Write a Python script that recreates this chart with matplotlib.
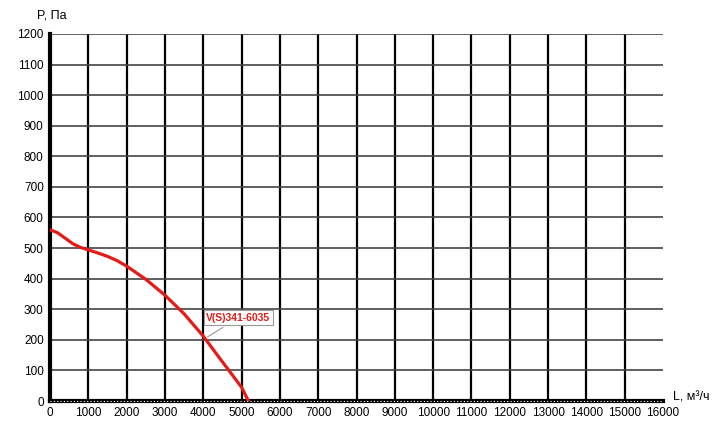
import matplotlib.pyplot as plt
import numpy as np

plt.rcParams['font.family'] = ['Liberation Sans', 'DejaVu Sans']

# curve
flow = [0, 200, 400, 600, 800, 1000, 1250, 1500, 1750, 2000, 2500, 3000, 3500,
        4000, 4500, 5000, 5180]
pressure = [560, 550, 532, 514, 502, 494, 484, 473, 459, 441, 398, 346, 285,
            212, 128, 45, 0]
x_ticks = list(range(0, 16001, 1000))
y_ticks = list(range(0, 1201, 100))
label = 'V(S)341-6035'

fig = plt.figure(figsize=(7.2, 4.36), dpi=100)
ax = fig.add_axes([50 / 720, 35 / 436, 613 / 720, 367 / 436])

ax.set_xlim(0, 16000)
ax.set_ylim(0, 1200)

# grid
for x in x_ticks[1:-1]:
    ax.plot([x, x], [0, 1200], color='black', lw=1.6, zorder=1)
for y in y_ticks[1:]:
    ax.plot([0, 16000], [y, y], color='#444444', lw=1.2, zorder=1)

ax.plot(flow, pressure, color='#e41b17', lw=2.3, zorder=3,
        solid_joinstyle='round')

ax.annotate(label, xy=(4050, 205), xytext=(4080, 262),
            fontsize=7.5, fontweight='bold', color='#e41b17', zorder=5,
            bbox=dict(boxstyle='square,pad=0.25', fc='white', ec='#999999', lw=0.8),
            arrowprops=dict(arrowstyle='-', color='#999999', lw=0.8))

for s in ['top', 'right']:
    ax.spines[s].set_visible(False)
ax.spines['left'].set_linewidth(3)
ax.spines['bottom'].set_linewidth(3)
ax.plot([0, 16000], [0, 0], color='white', lw=0.8, ls=(0, (1, 2)), zorder=6,
        clip_on=False)

ax.set_xticks(x_ticks)
ax.set_yticks(y_ticks)
ax.tick_params(axis='both', labelsize=8.5, length=3, width=1.5, direction='inout',
               pad=3)

fig.text(37 / 720, 1 - 16 / 436, 'P, Па', fontsize=9, va='center')
fig.text(673 / 720, 1 - 397 / 436, 'L, м³/ч', fontsize=9, va='center')

fig.savefig('out.png', dpi=100)
